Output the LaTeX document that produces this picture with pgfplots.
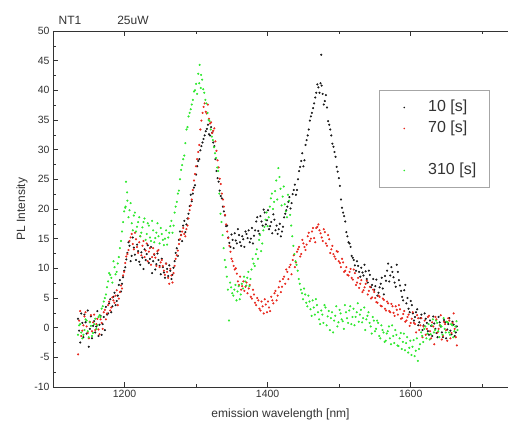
\documentclass[border=0pt]{standalone}
\usepackage{fontspec}
\setmainfont{Liberation Sans}
\usepackage{pgfplots}
\pgfplotsset{compat=1.18}
\definecolor{txt}{HTML}{333333}
\definecolor{dotblack}{HTML}{1A1A1A}
\definecolor{dotred}{HTML}{E8281E}
\definecolor{dotgreen}{HTML}{2EE82E}
\begin{document}
\begin{tikzpicture}
\pgfplotsset{
  ntframe/.style={
    width=455pt, height=356pt, scale only axis,
    xmin=1100, xmax=1736, ymin=-10, ymax=50,
    tick align=inside, major tick length=5pt, minor tick length=3pt,
    xtick={1200,1400,1600}, minor xtick={1100,1300,1500,1700},
    axis line style={draw=txt, line width=0.8pt},
    tick style={draw=txt, line width=0.6pt},
  }
}
\begin{axis}[
    ntframe,
    axis x line*=bottom, axis y line*=left,
    ytick={-10,-5,...,50}, minor ytick={-7.5,-2.5,...,47.5},
    ticklabel style={font=\fontsize{10.5}{12}\selectfont, text=txt},
    /pgf/number format/assume math mode=true,
    /pgf/number format/1000 sep={},
    xlabel={emission wavelength [nm]}, ylabel={PL Intensity},
    label style={font=\fontsize{12}{14}\selectfont, text=txt},
    xlabel style={at={(axis description cs:0.5,-0.0758)}, anchor=center},
    ylabel style={at={(axis description cs:-0.068,0.5)}, anchor=center},
    legend style={at={(0.716,0.834)}, anchor=north west, draw=gray!70,
                  line width=0.8pt, fill=white, inner xsep=13pt, inner ysep=9pt,
                  row sep=5pt, font=\fontsize{16}{19}\selectfont, text=txt,
                  nodes={inner sep=0pt, text height=12pt, text depth=4pt}},
    legend cell align=left,
    legend image code/.code={\path[draw=none,fill=none] (0pt,-1pt) rectangle (36pt,1pt);
                             \fill[draw=none] (12pt,0pt) circle (0.85pt);},
  ]
  % 10 s
  \addplot[only marks, mark=*, mark size=0.85pt, color=dotblack, mark options={draw=none}] coordinates {
    (1135,1.5)(1138,-2.5)(1141,0.8)(1144,2.2)(1147,-1.0)(1150,-3.2)(1153,1.9)(1156,0.3)
    (1159,-0.8)(1162,2.8)(1165,0.5)(1168,-1.2)(1171,1.8)(1174,3.5)(1177,2.4)(1180,4.8)
    (1183,3.6)(1186,5.9)(1189,4.5)(1192,7.2)(1195,6.1)(1198,8.5)(1201,10.2)(1204,12.6)
    (1207,13.8)(1210,12.1)(1213,13.5)(1216,11.4)(1219,12.9)(1222,10.6)(1225,11.8)(1228,13.2)
    (1231,12.4)(1234,10.9)(1237,13.6)(1240,11.2)(1243,9.8)(1246,12.5)(1249,10.4)(1252,11.6)
    (1255,9.3)(1258,10.8)(1261,8.7)(1264,9.6)(1267,8.9)(1270,11.2)(1273,13.4)(1276,14.8)
    (1279,15.6)(1282,17.2)(1285,16.1)(1288,18.4)(1291,20.5)(1294,21.3)(1297,23.6)(1300,25.8)
    (1303,28.1)(1306,29.9)(1309,31.2)(1312,32.4)(1315,33.5)(1318,32.6)(1321,33.8)(1324,31.2)
    (1327,28.4)(1330,25.2)(1333,23.1)(1336,21.8)(1339,19.6)(1342,17.1)(1345,15.2)(1348,13.6)
    (1351,14.8)(1354,15.9)(1357,14.2)(1360,15.6)(1363,13.8)(1366,14.9)(1369,16.2)(1372,15.1)
    (1375,14.4)(1378,16.8)(1381,15.5)(1384,17.9)(1387,16.3)(1390,18.8)(1393,17.2)(1396,19.4)
    (1399,18.1)(1402,16.6)(1405,17.8)(1408,19.1)(1411,16.4)(1414,15.8)(1417,17.5)(1420,16.2)
    (1423,18.6)(1426,19.8)(1429,21.2)(1432,20.1)(1435,22.5)(1438,24.1)(1441,23.2)(1444,26.4)
    (1447,28.1)(1450,27.2)(1453,30.8)(1456,32.4)(1459,34.9)(1462,36.2)(1465,37.8)(1468,39.6)
    (1471,40.5)(1474,41.2)(1475,46.0)(1477,39.4)(1480,38.2)(1483,37.1)(1486,34.2)(1489,32.4)
    (1492,30.5)(1495,28.8)(1498,26.3)(1501,23.9)(1504,20.2)(1507,18.8)(1510,16.1)(1513,14.4)
    (1516,13.6)(1519,11.8)(1522,10.5)(1525,11.2)(1528,9.4)(1531,10.1)(1534,8.8)(1537,9.5)
    (1540,7.6)(1543,8.9)(1546,7.2)(1549,6.4)(1552,8.1)(1555,5.9)(1558,7.4)(1561,6.6)
    (1564,8.7)(1567,9.6)(1570,7.8)(1573,10.2)(1576,8.5)(1579,6.9)(1582,9.4)(1585,7.1)
    (1588,5.2)(1591,6.3)(1594,4.1)(1597,3.2)(1600,4.5)(1603,2.4)(1606,1.8)(1609,3.1)
    (1612,0.9)(1615,2.2)(1618,0.4)(1621,1.5)(1624,-0.6)(1627,1.2)(1630,-1.4)(1633,0.7)
    (1636,-0.9)(1639,1.8)(1642,0.2)(1645,-1.6)(1648,0.9)(1651,-0.3)(1654,1.6)(1657,-1.1)
    (1660,0.5)(1663,-0.8)
    (1136.5,-0.5)(1139.5,2.4)(1142.5,-1.6)(1145.5,0.9)(1148.5,2.9)(1151.5,-0.2)(1154.5,-1.8)
    (1157.5,1.1)(1160.5,0.2)(1163.5,-1.4)(1166.5,2.0)(1169.5,0.6)(1172.5,-0.4)(1175.5,2.2)
    (1178.5,4.1)(1181.5,2.6)(1184.5,5.2)(1187.5,3.8)(1190.5,5.4)(1193.5,8.0)(1196.5,7.4)
    (1199.5,9.6)(1202.5,11.5)(1205.5,14.4)(1208.5,11.2)(1211.5,15.2)(1214.5,12.3)(1217.5,14.0)
    (1220.5,11.1)(1223.5,12.7)(1226.5,9.9)(1229.5,11.4)(1232.5,13.9)(1235.5,11.6)(1238.5,9.2)
    (1241.5,12.3)(1244.5,10.7)(1247.5,11.4)(1250.5,9.0)(1253.5,10.2)(1256.5,8.4)(1259.5,9.9)
    (1262.5,10.5)(1265.5,8.2)(1268.5,10.1)(1271.5,12.6)(1274.5,12.1)(1277.5,16.2)(1280.5,14.6)
    (1283.5,18.0)(1286.5,17.4)(1289.5,19.2)(1292.5,22.4)(1295.5,22.6)(1298.5,24.0)(1301.5,27.2)
    (1304.5,28.4)(1307.5,30.6)(1310.5,31.8)(1313.5,33.1)(1316.5,34.2)(1319.5,32.4)(1322.5,32.9)
    (1325.5,30.6)(1328.5,26.4)(1331.5,24.6)(1334.5,22.2)(1337.5,20.4)(1340.5,18.9)(1343.5,17.2)
    (1346.5,14.3)(1349.5,15.7)(1352.5,13.4)(1355.5,14.7)(1358.5,16.6)(1361.5,14.4)(1364.5,15.4)
    (1367.5,13.6)(1370.5,15.8)(1373.5,16.4)(1376.5,15.0)(1379.5,14.2)(1382.5,16.4)(1385.5,18.6)
    (1388.5,15.8)(1391.5,17.9)(1394.5,19.9)(1397.5,17.4)(1400.5,19.8)(1403.5,17.1)(1406.5,15.9)
    (1409.5,18.2)(1412.5,17.2)(1415.5,16.6)(1418.5,15.4)(1421.5,17.0)(1424.5,19.2)(1427.5,20.4)
    (1430.5,22.0)(1433.5,21.0)(1436.5,23.2)(1439.5,22.4)(1442.5,25.0)(1445.5,27.1)(1448.5,29.4)
    (1451.5,28.2)(1454.5,31.6)(1457.5,33.4)(1460.5,35.6)(1463.5,37.0)(1466.5,38.8)(1469.5,41.0)
    (1472.5,39.6)(1475.5,40.8)(1478.5,37.6)(1481.5,39.2)(1484.5,34.8)(1487.5,33.4)(1490.5,31.0)
    (1493.5,29.6)(1496.5,27.1)(1499.5,25.2)(1502.5,21.6)(1505.5,19.4)(1508.5,17.9)(1511.5,15.4)
    (1514.5,14.2)(1517.5,12.1)(1520.5,11.4)(1523.5,9.6)(1526.5,10.4)(1529.5,8.6)(1532.5,9.3)
    (1535.5,10.6)(1538.5,8.2)(1541.5,9.6)(1544.5,6.8)(1547.5,8.2)(1550.5,7.0)(1553.5,5.4)
    (1556.5,6.8)(1559.5,8.4)(1562.5,5.6)(1565.5,7.9)(1568.5,10.8)(1571.5,8.8)(1574.5,9.4)
    (1577.5,7.6)(1580.5,10.6)(1583.5,8.0)(1586.5,6.2)(1589.5,4.6)(1592.5,7.2)(1595.5,5.0)
    (1598.5,2.6)(1601.5,3.8)(1604.5,1.2)(1607.5,2.6)(1610.5,0.4)(1613.5,1.6)(1616.5,-0.4)
    (1619.5,2.4)(1622.5,0.8)(1625.5,-1.2)(1628.5,0.3)(1631.5,1.9)(1634.5,-0.2)(1637.5,-1.6)
    (1640.5,0.9)(1643.5,-0.8)(1646.5,1.3)(1649.5,-1.8)(1652.5,0.6)(1655.5,-0.5)(1658.5,1.0)
    (1661.5,-1.4)(1664.5,0.2)
  };
  \addlegendentry{10 [s]}
  % 70 s
  \addplot[only marks, mark=*, mark size=0.85pt, color=dotred, mark options={draw=none}] coordinates {
    (1135,-4.5)(1138,2.8)(1141,-0.5)(1144,1.9)(1147,0.2)(1150,-1.8)(1153,2.1)(1156,0.9)
    (1159,-0.4)(1162,1.5)(1165,-1.1)(1168,0.8)(1171,2.6)(1174,1.4)(1177,3.8)(1180,2.9)
    (1183,5.1)(1186,4.2)(1189,6.3)(1192,4.9)(1195,7.1)(1198,8.8)(1201,10.9)(1204,12.4)
    (1207,14.6)(1210,15.8)(1213,13.2)(1216,14.9)(1219,12.6)(1222,15.4)(1225,13.8)(1228,11.9)
    (1231,14.2)(1234,12.8)(1237,10.6)(1240,13.4)(1243,11.8)(1246,12.9)(1249,10.2)(1252,11.4)
    (1255,9.6)(1258,10.8)(1261,8.4)(1264,9.9)(1267,7.6)(1270,10.4)(1273,12.2)(1276,14.1)
    (1279,15.6)(1282,16.8)(1285,15.4)(1288,17.2)(1291,19.8)(1294,21.6)(1297,24.8)(1300,27.2)
    (1303,29.6)(1306,33.4)(1309,36.2)(1312,37.8)(1315,36.1)(1318,35.2)(1321,34.6)(1324,33.2)
    (1327,31.4)(1330,28.2)(1333,25.1)(1336,22.6)(1339,20.4)(1342,17.4)(1345,15.1)(1348,12.8)
    (1351,11.2)(1354,9.8)(1357,9.1)(1360,7.2)(1363,6.4)(1366,7.8)(1369,6.9)(1372,5.8)
    (1375,7.2)(1378,4.9)(1381,5.6)(1384,3.8)(1387,4.6)(1390,2.9)(1393,3.6)(1396,4.8)
    (1399,2.6)(1402,3.4)(1405,5.2)(1408,4.1)(1411,6.2)(1414,5.4)(1417,7.8)(1420,6.9)
    (1423,8.6)(1426,9.8)(1429,8.2)(1432,10.6)(1435,11.4)(1438,10.2)(1441,12.8)(1444,13.6)
    (1447,12.4)(1450,14.2)(1453,13.1)(1456,15.4)(1459,14.6)(1462,16.2)(1465,15.1)(1468,16.8)
    (1471,17.4)(1474,15.9)(1477,14.6)(1480,16.1)(1483,13.8)(1486,14.9)(1489,13.2)(1492,12.4)
    (1495,11.6)(1498,12.8)(1501,10.9)(1504,11.6)(1507,9.4)(1510,10.2)(1513,8.8)(1516,9.9)
    (1519,8.1)(1522,9.2)(1525,7.6)(1528,6.7)(1531,8.0)(1534,6.3)(1537,7.4)(1540,5.6)
    (1543,6.9)(1546,5.1)(1549,6.0)(1552,4.3)(1555,5.4)(1558,3.7)(1561,4.9)(1564,3.2)
    (1567,4.4)(1570,2.8)(1573,4.0)(1576,2.5)(1579,3.6)(1582,2.2)(1585,3.1)(1588,1.6)
    (1591,2.8)(1594,1.2)(1597,2.2)(1600,0.8)(1603,2.6)(1606,0.6)(1609,2.1)(1612,-0.4)
    (1615,1.6)(1618,0.2)(1621,-1.2)(1624,1.8)(1627,-0.6)(1630,0.9)(1633,-2.8)(1636,1.4)
    (1639,-0.2)(1642,2.1)(1645,-1.4)(1648,0.6)(1651,-2.2)(1654,1.2)(1657,-0.9)(1660,2.4)
    (1663,-1.6)
    (1136.5,1.2)(1139.5,-1.4)(1142.5,0.4)(1145.5,2.6)(1148.5,-0.9)(1151.5,1.0)(1154.5,-0.6)
    (1157.5,2.2)(1160.5,0.6)(1163.5,-0.3)(1166.5,1.4)(1169.5,-0.2)(1172.5,3.0)(1175.5,2.4)
    (1178.5,4.4)(1181.5,3.4)(1184.5,4.6)(1187.5,5.4)(1190.5,3.8)(1193.5,6.0)(1196.5,6.6)
    (1199.5,9.4)(1202.5,12.0)(1205.5,13.1)(1208.5,15.2)(1211.5,14.1)(1214.5,16.0)(1217.5,13.6)
    (1220.5,14.4)(1223.5,12.2)(1226.5,14.6)(1229.5,13.0)(1232.5,11.2)(1235.5,13.4)(1238.5,11.9)
    (1241.5,12.4)(1244.5,10.4)(1247.5,13.1)(1250.5,11.0)(1253.5,10.4)(1256.5,8.9)(1259.5,9.4)
    (1262.5,7.4)(1265.5,8.8)(1268.5,9.2)(1271.5,11.6)(1274.5,13.0)(1277.5,14.9)(1280.5,16.2)
    (1283.5,15.8)(1286.5,16.6)(1289.5,18.4)(1292.5,20.6)(1295.5,23.2)(1298.5,25.9)(1301.5,28.4)
    (1304.5,30.8)(1307.5,34.9)(1310.5,37.2)(1313.5,36.4)(1316.5,37.6)(1319.5,34.4)(1322.5,32.8)
    (1325.5,33.6)(1328.5,29.8)(1331.5,27.0)(1334.5,24.2)(1337.5,21.6)(1340.5,19.0)(1343.5,16.2)
    (1346.5,13.8)(1349.5,11.6)(1352.5,10.4)(1355.5,10.0)(1358.5,7.8)(1361.5,8.6)(1364.5,7.0)
    (1367.5,6.2)(1370.5,7.6)(1373.5,6.6)(1376.5,5.2)(1379.5,6.4)(1382.5,4.2)(1385.5,5.0)
    (1388.5,3.2)(1391.5,4.4)(1394.5,2.4)(1397.5,3.9)(1400.5,4.4)(1403.5,2.8)(1406.5,4.6)
    (1409.5,5.8)(1412.5,4.6)(1415.5,6.8)(1418.5,6.0)(1421.5,8.2)(1424.5,7.4)(1427.5,9.4)
    (1430.5,10.2)(1433.5,9.0)(1436.5,12.2)(1439.5,11.0)(1442.5,13.2)(1445.5,12.0)(1448.5,14.8)
    (1451.5,13.6)(1454.5,14.0)(1457.5,16.0)(1460.5,15.0)(1463.5,16.8)(1466.5,14.4)(1469.5,17.0)
    (1472.5,16.4)(1475.5,15.2)(1478.5,16.6)(1481.5,14.2)(1484.5,15.6)(1487.5,12.6)(1490.5,13.8)
    (1493.5,12.0)(1496.5,12.9)(1499.5,11.2)(1502.5,10.2)(1505.5,11.0)(1508.5,9.6)(1511.5,8.9)
    (1514.5,9.4)(1517.5,8.4)(1520.5,9.8)(1523.5,7.2)(1526.5,8.4)(1529.5,7.4)(1532.5,6.0)
    (1535.5,6.8)(1538.5,7.9)(1541.5,6.2)(1544.5,4.9)(1547.5,6.4)(1550.5,5.0)(1553.5,4.2)
    (1556.5,5.2)(1559.5,3.6)(1562.5,4.7)(1565.5,2.9)(1568.5,4.1)(1571.5,2.6)(1574.5,3.6)
    (1577.5,2.0)(1580.5,3.0)(1583.5,3.8)(1586.5,1.5)(1589.5,2.3)(1592.5,1.0)(1595.5,1.8)
    (1598.5,0.3)(1601.5,1.5)(1604.5,0.8)(1607.5,-0.8)(1610.5,1.6)(1613.5,0.4)(1616.5,-1.6)
    (1619.5,1.2)(1622.5,-0.2)(1625.5,2.0)(1628.5,-1.8)(1631.5,0.2)(1634.5,1.8)(1637.5,-0.8)
    (1640.5,0.4)(1643.5,-2.0)(1646.5,1.0)(1649.5,-0.4)(1652.5,1.6)(1655.5,-1.8)(1658.5,0.8)
    (1661.5,-0.2)(1664.5,-3.0)
  };
  \addlegendentry{70 [s]}
  \addlegendimage{empty legend}
  \addlegendentry{}
  % 310 s
  \addplot[only marks, mark=*, mark size=0.85pt, color=dotgreen, mark options={draw=none}] coordinates {
    (1135,-1.2)(1138,0.6)(1141,-1.8)(1144,-0.4)(1147,1.2)(1150,-1.6)(1153,0.3)(1156,-0.9)
    (1159,1.5)(1162,0.4)(1165,2.1)(1168,3.2)(1171,4.4)(1174,5.6)(1177,7.8)(1180,8.9)
    (1183,7.6)(1186,10.2)(1189,9.4)(1192,11.9)(1195,14.6)(1198,17.8)(1201,20.2)(1202,24.6)
    (1204,21.4)(1207,19.8)(1210,17.6)(1213,18.9)(1216,16.2)(1219,17.8)(1222,15.4)(1225,16.9)
    (1228,18.4)(1231,15.8)(1234,17.2)(1237,14.6)(1240,16.4)(1243,15.1)(1246,17.6)(1249,14.2)
    (1252,15.8)(1255,13.9)(1258,16.4)(1261,15.2)(1264,17.1)(1267,16.0)(1270,19.4)(1273,21.2)
    (1276,23.1)(1279,26.6)(1282,28.4)(1285,31.1)(1288,33.8)(1291,36.2)(1294,37.6)(1297,39.8)
    (1300,41.1)(1303,42.8)(1305,44.3)(1307,42.6)(1310,40.2)(1313,38.4)(1316,36.2)(1319,34.8)
    (1322,32.2)(1325,30.4)(1328,28.6)(1331,26.4)(1334,19.2)(1337,15.6)(1340,11.4)(1343,8.6)
    (1346,1.2)(1349,6.8)(1352,5.4)(1355,7.2)(1358,6.1)(1361,4.8)(1364,7.4)(1367,8.6)
    (1370,7.1)(1373,9.4)(1376,8.2)(1379,11.6)(1382,10.4)(1385,13.2)(1388,14.8)(1391,12.9)
    (1394,16.4)(1397,18.2)(1400,17.1)(1403,20.4)(1406,22.6)(1409,21.2)(1412,24.8)(1415,26.9)
    (1418,23.4)(1421,22.1)(1424,20.8)(1427,18.6)(1430,21.4)(1433,17.2)(1436,13.8)(1439,11.2)
    (1442,9.6)(1445,7.4)(1448,5.8)(1451,6.6)(1454,4.2)(1457,5.4)(1460,3.1)(1463,4.6)
    (1466,2.2)(1469,3.8)(1472,1.4)(1475,2.9)(1478,0.8)(1481,3.4)(1484,1.9)(1487,-0.4)
    (1490,2.6)(1493,1.2)(1496,3.6)(1499,0.9)(1502,2.4)(1505,1.1)(1508,3.8)(1511,1.6)
    (1514,2.9)(1517,0.6)(1520,3.2)(1523,1.8)(1526,4.1)(1529,2.2)(1532,0.9)(1535,3.4)
    (1538,1.4)(1541,2.6)(1544,0.2)(1547,1.8)(1550,-0.6)(1553,1.2)(1556,-1.4)(1559,0.4)
    (1562,-0.8)(1565,-2.2)(1568,-0.6)(1571,-1.8)(1574,0.4)(1577,-2.6)(1580,-1.2)(1583,-3.1)
    (1586,-0.9)(1589,-2.4)(1592,-3.8)(1595,-1.6)(1598,-3.4)(1601,-4.6)(1604,-2.1)(1607,-3.9)
    (1610,-5.6)(1613,-2.8)(1616,-1.4)(1619,-0.2)(1622,-1.8)(1625,0.6)(1628,-1.1)(1631,1.4)
    (1634,-0.4)(1637,0.8)(1640,-1.6)(1643,0.2)(1646,1.6)(1649,-0.8)(1652,0.9)(1655,-1.2)
    (1658,0.4)(1661,-0.6)(1664,1.1)
    (1136.5,0.4)(1139.5,-0.8)(1142.5,-1.2)(1145.5,1.4)(1148.5,-0.6)(1151.5,0.9)(1154.5,-1.4)
    (1157.5,0.6)(1160.5,-0.2)(1163.5,1.8)(1166.5,1.8)(1169.5,3.6)(1172.5,5.0)(1175.5,6.8)
    (1178.5,9.2)(1181.5,8.4)(1184.5,11.2)(1187.5,9.0)(1190.5,10.8)(1193.5,13.4)(1196.5,16.2)
    (1199.5,19.6)(1201.5,20.4)(1203.5,22.8)(1205.5,18.6)(1208.5,21.0)(1211.5,16.4)(1214.5,19.4)
    (1217.5,17.0)(1220.5,18.6)(1223.5,16.0)(1226.5,17.8)(1229.5,14.8)(1232.5,17.6)(1235.5,15.2)
    (1238.5,18.0)(1241.5,14.4)(1244.5,16.0)(1247.5,15.4)(1250.5,16.8)(1253.5,14.8)(1256.5,15.0)
    (1259.5,14.0)(1262.5,16.0)(1265.5,18.0)(1268.5,17.2)(1271.5,20.4)(1274.5,22.6)(1277.5,25.0)
    (1280.5,27.4)(1283.5,29.0)(1286.5,33.4)(1289.5,35.6)(1292.5,36.8)(1295.5,38.4)(1298.5,40.0)
    (1301.5,39.4)(1304.5,41.2)(1306.5,40.4)(1308.5,41.8)(1311.5,39.6)(1314.5,37.8)(1317.5,35.0)
    (1320.5,33.4)(1323.5,31.6)(1326.5,29.4)(1329.5,27.0)(1332.5,22.6)(1335.5,17.8)(1338.5,13.4)
    (1341.5,10.2)(1344.5,6.4)(1347.5,7.6)(1350.5,5.8)(1353.5,6.4)(1356.5,4.6)(1359.5,7.0)
    (1362.5,5.6)(1365.5,6.6)(1368.5,7.8)(1371.5,8.4)(1374.5,7.0)(1377.5,9.8)(1380.5,10.8)
    (1383.5,12.4)(1386.5,11.6)(1389.5,15.6)(1392.5,14.2)(1395.5,17.0)(1398.5,19.4)(1401.5,18.6)
    (1404.5,21.8)(1407.5,20.0)(1410.5,23.0)(1413.5,21.6)(1416.5,25.4)(1419.5,20.6)(1422.5,23.8)
    (1425.5,19.6)(1428.5,22.4)(1431.5,19.0)(1434.5,15.4)(1437.5,12.4)(1440.5,10.6)(1443.5,8.2)
    (1446.5,6.4)(1449.5,4.8)(1452.5,5.6)(1455.5,3.6)(1458.5,4.4)(1461.5,2.0)(1464.5,3.4)
    (1467.5,4.8)(1470.5,2.6)(1473.5,0.6)(1476.5,2.2)(1479.5,3.8)(1482.5,0.4)(1485.5,2.8)
    (1488.5,1.6)(1491.5,-0.8)(1494.5,2.0)(1497.5,0.2)(1500.5,3.0)(1503.5,1.4)(1506.5,-0.2)
    (1509.5,2.6)(1512.5,0.8)(1515.5,3.6)(1518.5,1.8)(1521.5,0.4)(1524.5,2.6)(1527.5,1.0)
    (1530.5,3.0)(1533.5,1.6)(1536.5,-0.4)(1539.5,2.0)(1542.5,0.8)(1545.5,-1.0)(1548.5,1.2)
    (1551.5,-0.2)(1554.5,0.8)(1557.5,-1.8)(1560.5,-0.4)(1563.5,-2.4)(1566.5,-1.0)(1569.5,0.2)
    (1572.5,-2.8)(1575.5,-1.4)(1578.5,-0.4)(1581.5,-3.0)(1584.5,-1.8)(1587.5,-3.6)(1590.5,-1.0)
    (1593.5,-2.6)(1596.5,-4.2)(1599.5,-2.2)(1602.5,-3.2)(1605.5,-4.8)(1608.5,-1.8)(1611.5,-3.6)
    (1614.5,-0.8)(1617.5,-2.4)(1620.5,0.2)(1623.5,-1.0)(1626.5,-2.0)(1629.5,0.4)(1632.5,-0.8)
    (1635.5,1.2)(1638.5,-0.6)(1641.5,0.4)(1644.5,-1.2)(1647.5,-0.2)(1650.5,1.0)(1653.5,-0.8)
    (1656.5,0.6)(1659.5,-1.6)(1662.5,0.2)(1665.5,-0.4)
  };
  \addlegendentry{310 [s]}
\end{axis}
% top frame line with its ticks
\begin{axis}[ntframe, axis x line*=top, hide y axis, xticklabels={}]
\end{axis}
\node[font=\fontsize{12}{14}\selectfont, text=txt] at (17pt,367pt) {NT1};
\node[font=\fontsize{12}{14}\selectfont, text=txt] at (80pt,367pt) {25uW};
\pgfresetboundingbox
\path (-53pt,-36pt) rectangle (455pt,387pt);
\end{tikzpicture}
\end{document}
